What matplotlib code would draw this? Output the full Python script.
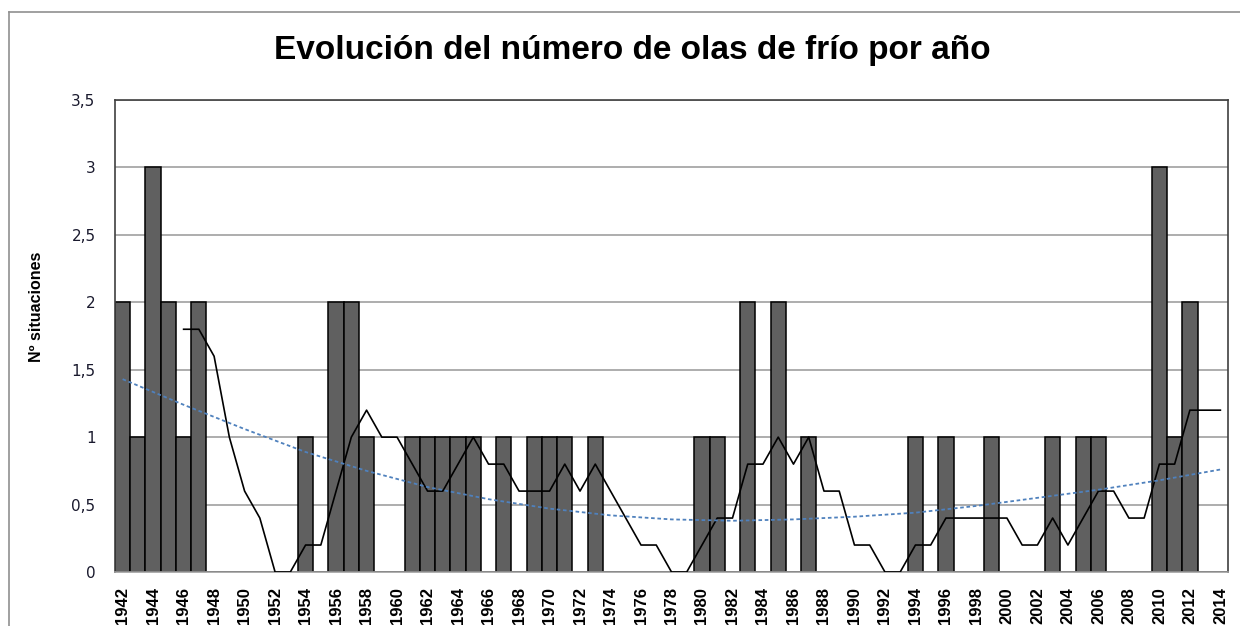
import matplotlib
matplotlib.use("Agg")
import matplotlib.pyplot as plt
from matplotlib.lines import Line2D

# datos
anios = list(range(1942, 2015))
olas = [2, 1, 3, 2, 1, 2, 0, 0, 0, 0,      # 1942-1951
        0, 0, 1, 0, 2, 2, 1, 0, 0, 1,      # 1952-1961
        1, 1, 1, 1, 0, 1, 0, 1, 1, 1,      # 1962-1971
        0, 1, 0, 0, 0, 0, 0, 0, 1, 1,      # 1972-1981
        0, 2, 0, 2, 0, 1, 0, 0, 0, 0,      # 1982-1991
        0, 0, 1, 0, 1, 0, 0, 1, 0, 0,      # 1992-2001
        0, 1, 0, 1, 1, 0, 0, 0, 3, 1,      # 2002-2011
        2, 0, 0]                           # 2012-2014

# media movil de 5 años (linea negra), empieza en 1946
media_anios = list(range(1946, 2015))
media = [1.8, 1.8, 1.6, 1.0, 0.6, 0.4, 0.0, 0.0, 0.2, 0.2,   # 1946-1955
         0.6, 1.0, 1.2, 1.0, 1.0, 0.8, 0.6, 0.6, 0.8, 1.0,   # 1956-1965
         0.8, 0.8, 0.6, 0.6, 0.6, 0.8, 0.6, 0.8, 0.6, 0.4,   # 1966-1975
         0.2, 0.2, 0.0, 0.0, 0.2, 0.4, 0.4, 0.8, 0.8, 1.0,   # 1976-1985
         0.8, 1.0, 0.6, 0.6, 0.2, 0.2, 0.0, 0.0, 0.2, 0.2,   # 1986-1995
         0.4, 0.4, 0.4, 0.4, 0.4, 0.2, 0.2, 0.4, 0.2, 0.4,   # 1996-2005
         0.6, 0.6, 0.4, 0.4, 0.8, 0.8, 1.2, 1.2, 1.2]        # 2006-2014

# linea de tendencia (azul punteada)
tend_anios = [1942, 1946, 1950, 1954, 1958, 1962, 1966, 1970, 1974, 1978,
              1982, 1986, 1990, 1994, 1998, 2002, 2006, 2010, 2014]
tend = [1.43, 1.24, 1.06, 0.89, 0.75, 0.63, 0.54, 0.47, 0.42, 0.39,
        0.38, 0.39, 0.41, 0.44, 0.49, 0.55, 0.61, 0.68, 0.76]

fig = plt.figure(figsize=(12.4, 6.26), dpi=100)
ax = fig.add_axes([115/1240, 54/626, 1113/1240, 472/626])

ax.bar(anios, olas, width=1.0, color='#606060', edgecolor='black', linewidth=1.1, zorder=2)
ax.plot(media_anios, media, color='black', linewidth=1.2, zorder=3)
ax.plot(tend_anios, tend, color='#4F81BD', linewidth=1.3, linestyle=(0, (2, 1.5)), zorder=4)

ax.set_xlim(1941.5, 2014.5)
ax.set_ylim(0, 3.5)
ax.set_yticks([0, 0.5, 1, 1.5, 2, 2.5, 3, 3.5])
ax.set_yticklabels(['0', '0,5', '1', '1,5', '2', '2,5', '3', '3,5'],
                   fontsize=11, color='#1a1a2e')
ax.set_xticks(anios[::2])
ax.set_xticklabels([str(a) for a in anios[::2]], rotation=90, fontsize=12,
                   fontweight='bold', family='Liberation Sans')
ax.tick_params(axis='y', length=0, pad=14)
ax.tick_params(axis='x', length=0, pad=11)
ax.yaxis.grid(True, color='#A0A0A0', linewidth=1.2, zorder=0)
ax.set_axisbelow(True)

for lado in ['top', 'right', 'left']:
    ax.spines[lado].set_color('#404040')
    ax.spines[lado].set_linewidth(1.2)
ax.spines['bottom'].set_color('#A0A0A0')
ax.spines['bottom'].set_linewidth(1.2)

ax.set_ylabel('Nº situaciones', fontsize=11.5, fontweight='bold', family='Liberation Sans')
ax.yaxis.set_label_coords(-0.064, 0.561)
fig.text(632/1240, 1 - 51/626, 'Evolución del número de olas de frío por año',
         ha='center', va='center', fontsize=24, fontweight='bold', family='Liberation Sans')

# borde exterior del grafico
fig.add_artist(Line2D([8.5/1240, 8.5/1240], [0, 1 - 12/626], color='#909090', linewidth=1.2))
fig.add_artist(Line2D([8.5/1240, 1], [1 - 12/626, 1 - 12/626], color='#909090', linewidth=1.2))

fig.savefig('out.png', dpi=100)
